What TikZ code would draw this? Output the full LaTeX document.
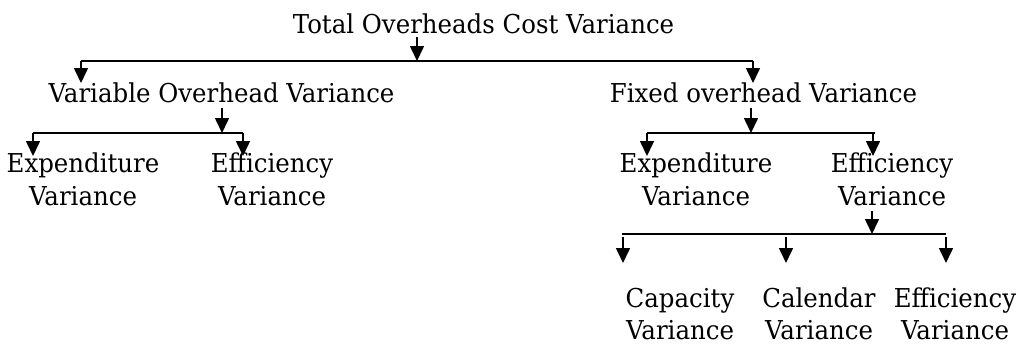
\documentclass[tikz,border=0pt]{standalone}
\usepackage{fontspec}
\setmainfont[FakeStretch=0.94]{DejaVu Serif}
\usetikzlibrary{arrows.meta}
\begin{document}
\begin{tikzpicture}[x=1pt,y=-1pt,
  lbl/.style={inner sep=0pt,anchor=base,align=center,font=\fontsize{26}{33}\selectfont},
  bus/.style={line width=1.8pt},
  arr/.style={line width=1.6pt,-{Triangle[length=15pt,width=14pt]}}]
\useasboundingbox (0,0) rectangle (1025,346);
% nodes
\node[lbl] (top) at (483.5,33) {Total Overheads Cost Variance};
\node[lbl] (var) at (221.5,102) {Variable Overhead Variance};
\node[lbl] (fix) at (763.5,102) {Fixed overhead Variance};
\node[lbl] (lexp) at (83,205) {Expenditure\\Variance};
\node[lbl] (leff) at (272,205) {Efficiency\\Variance};
\node[lbl] (rexp) at (696,205) {Expenditure\\Variance};
\node[lbl] (reff) at (892,205) {Efficiency\\Variance};
\node[lbl,font=\fontsize{26}{32}\selectfont] (cap) at (680,339) {Capacity\\Variance};
\node[lbl,font=\fontsize{26}{32}\selectfont] (cal) at (819,339) {Calendar\\Variance};
\node[lbl,font=\fontsize{26}{32}\selectfont] (eff) at (955,339) {Efficiency\\Variance};
% coordinates
\coordinate (t0) at (417,37);  \coordinate (t1) at (417,61);
\coordinate (b1l) at (81,61);  \coordinate (b1r) at (753,61);
\coordinate (b1lt) at (81,83); \coordinate (b1rt) at (753,83);
\coordinate (v0) at (222,108); \coordinate (v1) at (222,133);
\coordinate (b2l) at (33,133); \coordinate (b2r) at (243,133);
\coordinate (b2lt) at (33,156); \coordinate (b2rt) at (243,156);
\coordinate (f0) at (751,108); \coordinate (f1) at (751,133);
\coordinate (b3l) at (647,133); \coordinate (b3r) at (875,133);
\coordinate (b3lt) at (647,156); \coordinate (b3rt) at (873,156);
\coordinate (b3rs) at (873,133);
\coordinate (e0) at (872,211); \coordinate (e1) at (872,234);
\coordinate (b4l) at (622,234); \coordinate (b4r) at (946,234);
\coordinate (d1a) at (623,237); \coordinate (d1b) at (623,263);
\coordinate (d2a) at (786,237); \coordinate (d2b) at (786,263);
\coordinate (d3a) at (946,237); \coordinate (d3b) at (946,263);
% connectors
\draw[arr] (t0) -- (t1);
\draw[bus] (b1l) -- (b1r);
\draw[arr] (b1l) -- (b1lt);
\draw[arr] (b1r) -- (b1rt);
\draw[arr] (v0) -- (v1);
\draw[bus] (b2l) -- (b2r);
\draw[arr] (b2l) -- (b2lt);
\draw[arr] (b2r) -- (b2rt);
\draw[arr] (f0) -- (f1);
\draw[bus] (b3l) -- (b3r);
\draw[arr] (b3l) -- (b3lt);
\draw[arr] (b3rs) -- (b3rt);
\draw[arr] (e0) -- (e1);
\draw[bus] (b4l) -- (b4r);
\draw[arr] (d1a) -- (d1b);
\draw[arr] (d2a) -- (d2b);
\draw[arr] (d3a) -- (d3b);
\end{tikzpicture}
\end{document}
